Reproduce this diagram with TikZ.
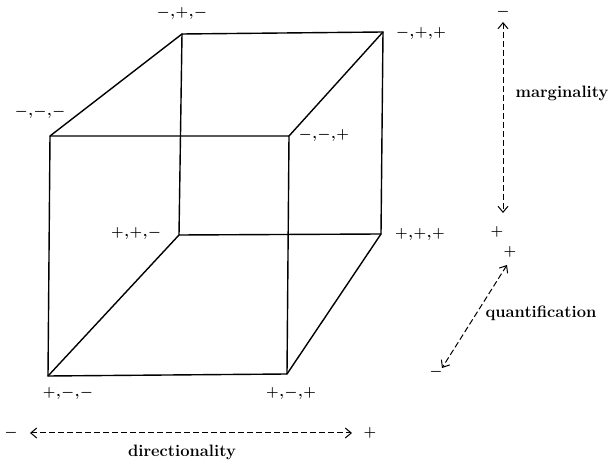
\documentclass[tikz,border=0pt]{standalone}
\usepackage{amsmath}
\usepackage{tikz}
\usetikzlibrary{arrows.meta,positioning}
\newcommand{\sgn}[3]{$#1$\kern0.6pt,\kern0.6pt$#2$\kern0.6pt,\kern0.6pt$#3$}

\begin{document}
\begin{tikzpicture}[x=1pt, y=-1pt,
  edge/.style={line width=1.4pt, line join=round, line cap=round},
  axis/.style={dash pattern=on 6pt off 3pt, line width=1pt,
    {Straight Barb[length=6pt,width=10pt]}-{Straight Barb[length=6pt,width=10pt]}},
  vlab/.style={font=\fontsize{15}{18}\selectfont\bfseries\boldmath, inner sep=0pt},
  alab/.style={font=\fontsize{16.5}{18}\selectfont\bfseries, inner sep=1pt}
]
  \useasboundingbox (0,0) rectangle (611,462);
  % corners of the cube
  \coordinate (mmm) at (50,136);
  \coordinate (mmp) at (289,136);
  \coordinate (mpm) at (182,34);
  \coordinate (mpp) at (383,32);
  \coordinate (pmm) at (48,376);
  \coordinate (pmp) at (287,374);
  \coordinate (ppm) at (179,235);
  \coordinate (ppp) at (381,234);
  \draw[edge] (mmm) -- (mmp) -- (pmp) -- (pmm) -- cycle;
  \draw[edge] (mpm) -- (mpp) -- (ppp) -- (ppm) -- cycle;
  \draw[edge] (mmm) -- (mpm);
  \draw[edge] (mmp) -- (mpp);
  \draw[edge] (pmm) -- (ppm);
  \draw[edge] (pmp) -- (ppp);
  % corner labels
  \node[vlab] (lmpm) at (182,13) {\sgn{-}{+}{-}};
  \node[vlab] (lmpp) at (421,33) {\sgn{-}{+}{+}};
  \node[vlab] (lmmm) at (40,112) {\sgn{-}{-}{-}};
  \node[vlab] (lmmp) at (324,135) {\sgn{-}{-}{+}};
  \node[vlab] (lppm) at (136,233) {\sgn{+}{+}{-}};
  \node[vlab] (lppp) at (420,234) {\sgn{+}{+}{+}};
  \node[vlab] (lpmm) at (68,393) {\sgn{+}{-}{-}};
  \node[vlab] (lpmp) at (291,393) {\sgn{+}{-}{+}};
  % marginality
  \node[vlab] (mtop) at (503,12) {$-$};
  \node[vlab] (mbot) at (497,232) {$+$};
  \coordinate (ma) at (503,22);
  \coordinate (mb) at (503,213);
  \draw[axis] (ma) -- (mb);
  \node[alab] (mlab) at (562,93) {marginality};
  % quantification
  \node[vlab] (qtop) at (510,252) {$+$};
  \node[vlab] (qbot) at (436,372) {$-$};
  \coordinate (qa) at (507,265);
  \coordinate (qb) at (442,368);
  \draw[axis] (qa) -- (qb);
  \node[alab] (qlab) at (541,313) {quantification};
  % directionality
  \node[vlab] (dleft) at (11,433) {$-$};
  \node[vlab] (dright) at (370,433) {$+$};
  \coordinate (da) at (30,433);
  \coordinate (db) at (352,433);
  \draw[axis] (da) -- (db);
  \node[alab] (dlab) at (182,452) {directionality};
\end{tikzpicture}
\end{document}
